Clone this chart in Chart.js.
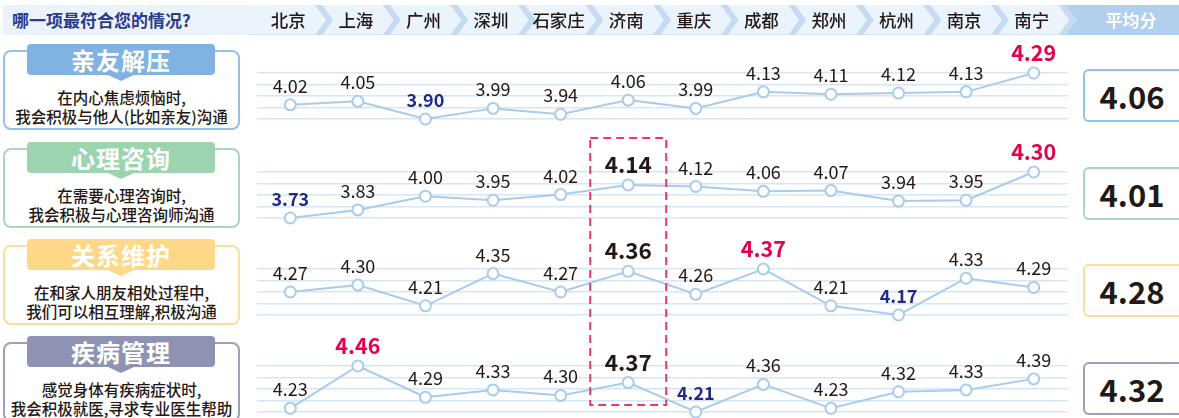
<!DOCTYPE html>
<html><head><meta charset="utf-8">
<script src="https://cdn.jsdelivr.net/npm/chart.js@4.4.1/dist/chart.umd.min.js"></script>
<style>
html,body{margin:0;padding:0;background:#fff;}
#root{position:relative;width:1179px;height:418px;overflow:hidden;font-family:"Noto Sans CJK SC","Noto Sans",sans-serif;color:#231815;}
.abs{position:absolute;box-sizing:border-box;}
canvas{position:absolute;}
</style></head><body><div id="root"></div>
<script>
// ---------- data ----------
const categories = ['北京','上海','广州','深圳','石家庄','济南','重庆','成都','郑州','杭州','南京','南宁'];
const questionTitle = '哪一项最符合您的情况?';
const averageTitle = '平均分';
const panelTitles = ['亲友解压','心理咨询','关系维护','疾病管理'];
const panelDescriptions = [
  ['在内心焦虑烦恼时,','我会积极与他人(比如亲友)沟通'],
  ['在需要心理咨询时,','我会积极与心理咨询师沟通'],
  ['在和家人朋友相处过程中,','我们可以相互理解,积极沟通'],
  ['感觉身体有疾病症状时,','我会积极就医,寻求专业医生帮助']
];
const seriesFriends  = [4.02,4.05,3.90,3.99,3.94,4.06,3.99,4.13,4.11,4.12,4.13,4.29];
const seriesCounsel  = [3.73,3.83,4.00,3.95,4.02,4.14,4.12,4.06,4.07,3.94,3.95,4.30];
const seriesRelation = [4.27,4.30,4.21,4.35,4.27,4.36,4.26,4.37,4.21,4.17,4.33,4.29];
const seriesHealth   = [4.23,4.46,4.29,4.33,4.30,4.37,4.21,4.36,4.23,4.32,4.33,4.39];
const averages = [4.06,4.01,4.28,4.32];
const highlightCity = '济南';
const highlightPanels = [false,true,true,true];

// ---------- layout & style ----------
const allSeries = [seriesFriends, seriesCounsel, seriesRelation, seriesHealth];
const GRID_TOP = [73,172,269,366];
const GRID_H = 46;
const PAD_TOP = 35, PAD_BOTTOM = 12;
const PLOT_LEFT = 249, PLOT_W = 826;
const BOX_TOP = [50,148,245,342];
const AVG_TOP = [69,167,264,362];
const TAB_COLORS = ['#80b3e1','#9dd4b0','#fdd888','#8f93b3'];
const BORDER_COLORS = ['#93bfe8','#a6d8b9','#fddf9c','#9c9fbd'];
const LINE_COLOR = '#a9cbec';
const FONT = '"Noto Sans CJK SC","Noto Sans",sans-serif';

const root = document.getElementById('root');
function el(tag, css, text){ const e=document.createElement(tag); e.className='abs'; Object.assign(e.style, css); if(text!==undefined) e.textContent=text; root.appendChild(e); return e; }

const labelPlugin = {
  id:'valueLabels',
  afterDatasetsDraw(chart, args, opts){
    const ctx = chart.ctx;
    const vals = chart.data.datasets[0].data;
    const mn = Math.min(...vals), mx = Math.max(...vals);
    const meta = chart.getDatasetMeta(0);
    ctx.save();
    ctx.textAlign='center'; ctx.textBaseline='alphabetic';
    meta.data.forEach((pt,i)=>{
      const v = vals[i];
      let font = '400 18px '+FONT, color='#231815';
      if (opts.highlight && chart.data.labels[i]===highlightCity){ font='700 22.5px '+FONT; color='#231815'; }
      else if (v===mx){ font='700 21.5px '+FONT; color='#e5004a'; }
      else if (v===mn){ font='700 18px '+FONT; color='#1f2a8a'; }
      ctx.font=font; ctx.fillStyle=color;
      ctx.fillText(v.toFixed(2), pt.x, pt.y-12);
    });
    ctx.restore();
  }
};

const charts = allSeries.map((values,k)=>{
  const c = document.createElement('canvas');
  const h = PAD_TOP+GRID_H+PAD_BOTTOM;
  c.width = PLOT_W; c.height = h;
  c.style.left = PLOT_LEFT+'px'; c.style.top = (GRID_TOP[k]-PAD_TOP)+'px';
  c.style.width = PLOT_W+'px'; c.style.height = h+'px';
  root.appendChild(c);
  return new Chart(c, {
    type:'line',
    data:{labels:categories, datasets:[{data:values, borderColor:LINE_COLOR, borderWidth:2, tension:0,
      pointRadius:5.5, pointBorderWidth:2, pointBackgroundColor:'#ffffff', pointBorderColor:LINE_COLOR, clip:false}]},
    options:{
      responsive:false, animation:false, events:[],
      layout:{padding:{top:PAD_TOP,bottom:PAD_BOTTOM,left:0,right:0}},
      plugins:{legend:{display:false}, tooltip:{enabled:false}, valueLabels:{highlight:highlightPanels[k]}},
      scales:{
        x:{type:'category', offset:true, display:false},
        y:{min:Math.min(...values), max:Math.max(...values), display:true,
           ticks:{display:false, count:5}, border:{display:false},
           grid:{color:'#d5e6f6', lineWidth:1.5, drawTicks:false},
           afterFit(s){ s.width=0; }}
      }
    },
    plugins:[labelPlugin]
  });
});

// ---------- header ----------
const xs = categories.map((_,i)=>charts[0].scales.x.getPixelForValue(i) + PLOT_LEFT);
const step = xs[1]-xs[0];
el('div',{left:'3px',top:'5px',width:'245px',height:'30px',background:'#eaf3fb',color:'#2b3a8c',fontWeight:'700',fontSize:'17px',lineHeight:'30px',paddingLeft:'9px',fontFamily:FONT}, questionTitle);
el('div',{left:'248px',top:'5px',width:'931px',height:'30px',background:'#ebf3fc',borderBottom:'1px solid #d6e6f6'});
const svgNS='http://www.w3.org/2000/svg';
const hsvg=document.createElementNS(svgNS,'svg');
hsvg.setAttribute('width','1179'); hsvg.setAttribute('height','40');
hsvg.style.position='absolute'; hsvg.style.left='0'; hsvg.style.top='0';
root.appendChild(hsvg);
function poly(points, fill, parent){ const p=document.createElementNS(svgNS,'polygon'); p.setAttribute('points',points.map(q=>q.join(',')).join(' ')); p.setAttribute('fill',fill); (parent||hsvg).appendChild(p); }
for(let i=0;i<categories.length;i++){
  const m = (i<categories.length-1) ? (xs[i]+xs[i+1])/2 : xs[i]+step/2;
  if(i===categories.length-1){
    poly([[m-2,5],[1179,5],[1179,35],[m-2,35],[m+9,20]],'#b2cfee');
  }
  poly([[m-9,5],[m-2,5],[m+9,20],[m-2,35],[m-9,35],[m+2,20]],'#c4dbf2');
}
categories.forEach((name,i)=>{
  el('div',{left:(xs[i]-42)+'px',top:'5px',width:'80px',height:'30px',lineHeight:'30px',textAlign:'center',fontSize:'17.5px',fontWeight:'500',color:'#231815',fontFamily:FONT}, name);
});
el('div',{left:'1083px',top:'5px',width:'96px',height:'30px',lineHeight:'30px',textAlign:'center',fontSize:'17px',fontWeight:'700',color:'#ffffff',fontFamily:FONT}, averageTitle);

// ---------- left panels & averages ----------
panelTitles.forEach((t,k)=>{
  const top = BOX_TOP[k];
  el('div',{left:'3px',top:top+'px',width:'237px',height:'80px',border:'2px solid '+BORDER_COLORS[k],borderRadius:'8px',background:'#fff'});
  el('div',{left:'27px',top:(top-6)+'px',width:'188px',height:'31px',background:TAB_COLORS[k],borderRadius:'4px',color:'#fff',fontSize:'24px',fontWeight:'700',lineHeight:'31px',textAlign:'center',letterSpacing:'1px',fontFamily:FONT}, t);
  el('div',{left:'108px',top:(top+25)+'px',width:'0',height:'0',borderLeft:'13px solid transparent',borderRight:'13px solid transparent',borderTop:'6px solid '+TAB_COLORS[k]});
  panelDescriptions[k].forEach((line,j)=>{
    el('div',{left:'3px',top:(top+37+j*18.5)+'px',width:'237px',height:'20px',lineHeight:'20px',textAlign:'center',fontSize:'15.5px',fontWeight:'500',color:'#231815',fontFamily:FONT,whiteSpace:'nowrap'}, line);
  });
  el('div',{left:'1083px',top:AVG_TOP[k]+'px',width:'96px',height:'53px',border:'2px solid '+BORDER_COLORS[k],borderRight:'none',borderRadius:'6px 0 0 6px',background:'#fff',textAlign:'center',lineHeight:'49px',fontSize:'31px',fontWeight:'700',color:'#231815',fontFamily:FONT}, averages[k].toFixed(2));
});

// ---------- highlight dashed box ----------
const hi = categories.indexOf(highlightCity);
const osvg=document.createElementNS(svgNS,'svg');
osvg.setAttribute('width','1179'); osvg.setAttribute('height','418');
osvg.style.position='absolute'; osvg.style.left='0'; osvg.style.top='0';
root.appendChild(osvg);
const r=document.createElementNS(svgNS,'rect');
r.setAttribute('x',xs[hi]-38); r.setAttribute('y',138); r.setAttribute('width',76); r.setAttribute('height',267);
r.setAttribute('fill','none'); r.setAttribute('stroke','#e8396c'); r.setAttribute('stroke-width','2'); r.setAttribute('stroke-dasharray','8 5');
osvg.appendChild(r);
</script></body></html>
